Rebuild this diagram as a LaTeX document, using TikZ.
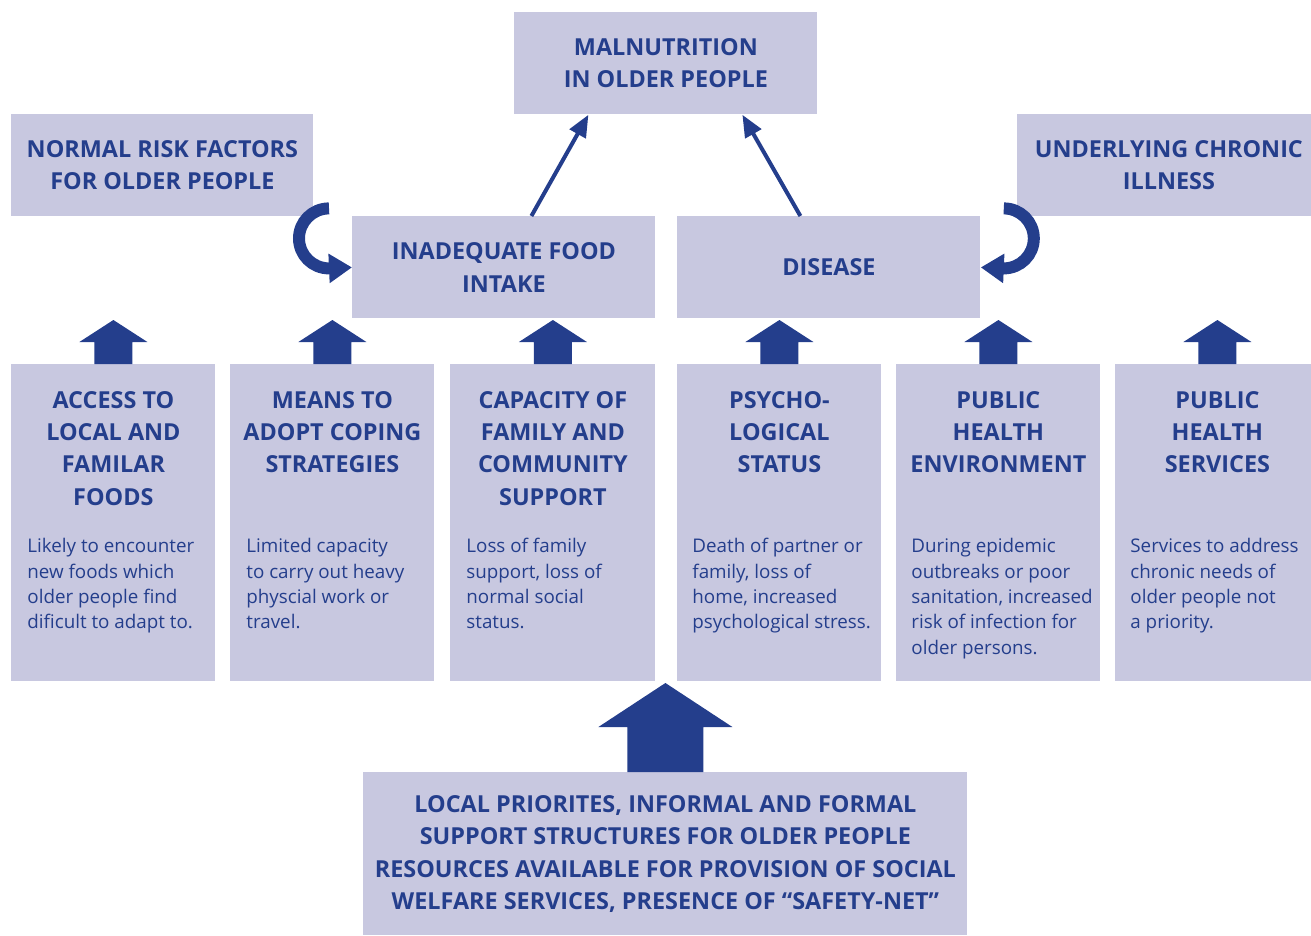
\documentclass[tikz,border=0pt]{standalone}
\usepackage{fontspec}
\setmainfont{Open Sans}
\usetikzlibrary{arrows.meta}
\definecolor{boxfill}{RGB}{200,200,224}
\definecolor{darkblue}{RGB}{36,62,140}
\begin{document}
\begin{tikzpicture}
      [x=0.5pt, y=-0.5pt,
      box/.style={fill=boxfill, inner sep=0pt, anchor=north west, text=darkblue,
        font=\fontsize{11.7}{16.15}\selectfont\bfseries, align=center},
      head/.style={anchor=north, inner sep=0pt, text=darkblue,
        font=\fontsize{11.7}{16.15}\selectfont\bfseries, align=center},
      body/.style={anchor=north west, inner sep=0pt, text=darkblue,
        font=\fontsize{9.4}{12.7}\selectfont, align=left},
      link/.style={draw=darkblue, line width=2pt, -{Triangle[length=11pt,width=9pt]}},
      curl/.style={draw=darkblue, line width=6pt, -{Triangle[length=11.5pt,width=14pt]}},
      ]
      \clip (0,0) rectangle (1311,936);
      % upper boxes
      \node[box, minimum width=151.5pt, minimum height=51pt] (mal) at (514,12) {MALNUTRITION\\IN OLDER PEOPLE};
      \node[box, minimum width=151pt, minimum height=51pt] (normal) at (11,114) {NORMAL RISK FACTORS\\FOR OLDER PEOPLE};
      \node[box, minimum width=151.5pt, minimum height=51pt] (chronic) at (1017,114) {UNDERLYING CHRONIC\\ILLNESS};
      \node[box, minimum width=151.5pt, minimum height=51pt] (food) at (352,216) {INADEQUATE FOOD\\INTAKE};
      \node[box, minimum width=151.5pt, minimum height=51pt] (disease) at (677,216) {DISEASE};
      % factor boxes
      \node[box, minimum width=102pt, minimum height=158.5pt] (access) at (11,364) {};
      \node[box, minimum width=102pt, minimum height=158.5pt] (means) at (230,364) {};
      \node[box, minimum width=102.5pt, minimum height=158.5pt] (capacity) at (450,364) {};
      \node[box, minimum width=102pt, minimum height=158.5pt] (psycho) at (677,364) {};
      \node[box, minimum width=102pt, minimum height=158.5pt] (health) at (896,364) {};
      \node[box, minimum width=102pt, minimum height=158.5pt] (services) at (1115,364) {};
      \node[head] (access-t) at ([yshift=-13.5pt]access.north) {ACCESS TO\\LOCAL AND\\FAMILAR\\FOODS};
      \node[head] (means-t) at ([yshift=-13.5pt]means.north) {MEANS TO\\ADOPT COPING\\STRATEGIES};
      \node[head] (capacity-t) at ([yshift=-13.5pt]capacity.north) {CAPACITY OF\\FAMILY AND\\COMMUNITY\\SUPPORT};
      \node[head] (psycho-t) at ([yshift=-13.5pt]psycho.north) {PSYCHO-\\LOGICAL\\STATUS};
      \node[head] (health-t) at ([yshift=-13.5pt]health.north) {PUBLIC\\HEALTH\\ENVIRONMENT};
      \node[head] (services-t) at ([yshift=-13.5pt]services.north) {PUBLIC\\HEALTH\\SERVICES};
      \node[body] (access-b) at ([shift={(8pt,-87pt)}]access.north west) {Likely to encounter\\new foods which\\older people find\\dificult to adapt to.};
      \node[body] (means-b) at ([shift={(8pt,-87pt)}]means.north west) {Limited capacity\\to carry out heavy\\physcial work or\\travel.};
      \node[body] (capacity-b) at ([shift={(8pt,-87pt)}]capacity.north west) {Loss of family\\support, loss of\\normal social\\status.};
      \node[body] (psycho-b) at ([shift={(7.5pt,-87pt)}]psycho.north west) {Death of partner or\\family, loss of\\home, increased\\psychological stress.};
      \node[body] (health-b) at ([shift={(7.5pt,-87pt)}]health.north west) {During epidemic\\outbreaks or poor\\sanitation, increased\\risk of infection for\\older persons.};
      \node[body] (services-b) at ([shift={(7.5pt,-87pt)}]services.north west) {Services to address\\chronic needs of\\older people not\\a priority.};
      % base box
      \node[box, minimum width=302pt, minimum height=81.5pt] (priorities) at (363,772)
        {LOCAL PRIORITES, INFORMAL AND FORMAL\\SUPPORT STRUCTURES FOR OLDER PEOPLE\\RESOURCES AVAILABLE FOR PROVISION OF SOCIAL\\WELFARE SERVICES, PRESENCE OF “SAFETY-NET”};
      % block arrows
      \foreach \b in {access,means,capacity,psycho,health,services}
        \fill[darkblue, shift={(\b.north)}] (-19,0) -- (-19,-22) -- (-34,-22) -- (0,-44)
          -- (34,-22) -- (19,-22) -- (19,0) -- cycle;
      \fill[darkblue, shift={(priorities.north)}] (-38,0) -- (-38,-45) -- (-67,-45) -- (0,-89)
        -- (67,-45) -- (38,-45) -- (38,0) -- cycle;
      % arrows
      \draw[link] ([xshift=13.75pt]food.north) -- ([xshift=-38.75pt]mal.south);
      \draw[link] ([xshift=-14.25pt]disease.north) -- ([xshift=38.25pt]mal.south);
      \draw[curl] ([shift={(-11.5pt,29.5pt)}]food.west) arc[start angle=270, end angle=90, radius=30] -- (food.west);
      \draw[curl] ([shift={(11.5pt,29.5pt)}]disease.east) arc[start angle=270, end angle=450, radius=30] -- (disease.east);
\end{tikzpicture}
\end{document}
